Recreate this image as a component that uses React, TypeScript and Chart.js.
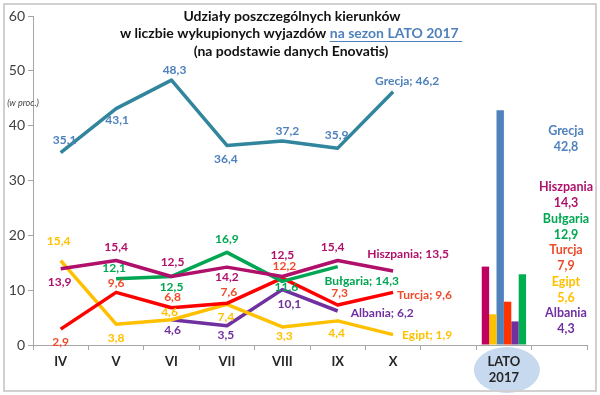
import { useEffect, useRef } from 'react';
import { Chart, registerables } from 'chart.js';

Chart.register(...registerables);

// ---------- DATA ----------
const categories: (string | string[])[] = ['IV', 'V', 'VI', 'VII', 'VIII', 'IX', 'X', '', ['LATO', '2017'], ''];
const yTicks = [0, 10, 20, 30, 40, 50, 60];

const grecja = [35.1, 43.1, 48.3, 36.4, 37.2, 35.9, 46.2];
const hiszpania = [13.9, 15.4, 12.5, 14.2, 12.5, 15.4, 13.5];
const bulgaria = [null, 12.1, 12.5, 16.9, 11.6, 14.3, null];
const turcja = [2.9, 9.6, 6.8, 7.6, 12.2, 7.3, 9.6];
const egipt = [15.4, 3.8, 4.6, 7.4, 3.3, 4.4, 1.9];
const albania = [null, null, 4.6, 3.5, 10.1, 6.2, null];

const latoNames = ['Hiszpania', 'Egipt', 'Grecja', 'Turcja', 'Albania', 'Bułgaria'];
const latoValues = [14.3, 5.6, 42.8, 7.9, 4.3, 12.9];
const latoAnnotationOrder = ['Grecja', 'Hiszpania', 'Bułgaria', 'Turcja', 'Egipt', 'Albania'];

const titleLine1 = 'Udziały poszczególnych kierunków';
const titleLine2a = 'w liczbie wykupionych wyjazdów ';
const titleLine2b = 'na sezon LATO 2017 ';
const titleLine3 = '(na podstawie danych Enovatis)';
const unitLabel = '(w proc.)';

// ---------- STYLES ----------
const FONT = 'Lato, "Open Sans", sans-serif';
type Off = [number, number, string?] | null;

const grecjaOff: Off[] = [[4, -12], [1, 11], [3, -10], [-1, 14], [5, -10], [-1, -13], [14, -11]];
const hiszpaniaOff: Off[] = [[-1, 13], [0, -13], [1, -14], [0, 10], [0, -21], [-5, -13], [15, -17]];
const bulgariaOff: Off[] = [null, [-2, -11], [0, 11], [0, -13], [4, 6], [24, 15]];
const turcjaOff: Off[] = [[0, 13], [0, -9], [1, -11], [2, -11], [2, -12], [2, -12], [4, 3, 'l']];
const egiptOff: Off[] = [[-2, -19], [0, 14], [-2, -8], [-1, 13], [2, 9], [-1, 12], [9, 1, 'l']];
const albaniaOff: Off[] = [null, null, [1, 10], [-1, 9], [7, 15], [13, 2, 'l']];

const lineSeries = [
  { name: 'Grecja', data: grecja, line: '#31859C', text: '#4F81BD', offs: grecjaOff },
  { name: 'Hiszpania', data: hiszpania, line: '#B0106A', text: '#B0106A', offs: hiszpaniaOff },
  { name: 'Bułgaria', data: bulgaria, line: '#00A651', text: '#00A651', offs: bulgariaOff },
  { name: 'Turcja', data: turcja, line: '#FF0000', text: '#EE4B2B', offs: turcjaOff },
  { name: 'Egipt', data: egipt, line: '#FFC000', text: '#FFC000', offs: egiptOff },
  { name: 'Albania', data: albania, line: '#7030A0', text: '#7030A0', offs: albaniaOff },
];

const barColors: Record<string, string> = {
  Hiszpania: '#C00060', Egipt: '#FFC000', Grecja: '#4F81BD', Turcja: '#FF3300', Albania: '#7030A0', 'Bułgaria': '#00B050',
};
const annColors: Record<string, string> = {
  Hiszpania: '#B0106A', Egipt: '#FFC000', Grecja: '#4F81BD', Turcja: '#EE4B2B', Albania: '#7030A0', 'Bułgaria': '#00A651',
};

const fmt = (v: number) => v.toFixed(1).replace('.', ',');
const pad = (arr: (number | null)[]) => categories.map((_, i) => (i < arr.length ? arr[i] : null));

const decorPlugin = {
  id: 'decor',
  beforeDraw(chart: any) {
    const { ctx } = chart;
    const x = chart.scales.x;
    ctx.save();
    const cx = x.getPixelForValue(8);
    ctx.fillStyle = '#C6D9EE';
    ctx.beginPath();
    ctx.ellipse(cx + 3, 370, 33, 23, 0, 0, Math.PI * 2);
    ctx.fill();
    ctx.restore();
  },
  afterDraw(chart: any) {
    const { ctx } = chart;
    const xs = chart.scales.x;
    const ys = chart.scales.y;
    ctx.save();
    // frame
    ctx.strokeStyle = '#D0D0D0';
    ctx.lineWidth = 2;
    ctx.strokeRect(4, 4, 592, 387);

    // title
    ctx.font = `bold 14px ${FONT}`;
    ctx.fillStyle = '#111';
    ctx.textBaseline = 'middle';
    ctx.textAlign = 'center';
    ctx.fillText(titleLine1, 292, 16);
    ctx.fillText(titleLine3, 291, 51);
    const wa = ctx.measureText(titleLine2a).width;
    const wb = ctx.measureText(titleLine2b).width;
    const sx = 291 - (wa + wb) / 2;
    ctx.textAlign = 'left';
    ctx.fillText(titleLine2a, sx, 33);
    ctx.fillStyle = '#4F81BD';
    ctx.fillText(titleLine2b, sx + wa, 33);
    ctx.strokeStyle = '#4F81BD';
    ctx.lineWidth = 1;
    ctx.beginPath();
    ctx.moveTo(sx + wa, 41.5);
    ctx.lineTo(sx + wa + wb, 41.5);
    ctx.stroke();

    // unit label
    ctx.font = `italic 9px ${FONT}`;
    ctx.fillStyle = '#404040';
    ctx.textAlign = 'center';
    ctx.fillText(unitLabel, 23, 103);

    // data labels
    ctx.font = `bold 12px ${FONT}`;
    lineSeries.forEach((s) => {
      let last = -1;
      s.data.forEach((v, i) => { if (v != null) last = i; });
      s.data.forEach((v, i) => {
        const o = s.offs[i];
        if (v == null || !o) return;
        const px = xs.getPixelForValue(i);
        const py = ys.getPixelForValue(v);
        const txt = i === last && i >= 5 ? `${s.name}; ${fmt(v)}` : fmt(v);
        ctx.fillStyle = s.text;
        ctx.textAlign = o[2] === 'l' ? 'left' : 'center';
        ctx.fillText(txt, px + o[0], py + o[1]);
      });
    });

    // right annotations
    ctx.font = `bold 12.5px ${FONT}`;
    ctx.textAlign = 'center';
    const ax = 566;
    latoAnnotationOrder.forEach((name, k) => {
      const v = latoValues[latoNames.indexOf(name)];
      const y0 = k === 0 ? 131 : 187 + (k - 1) * 31.5;
      ctx.fillStyle = annColors[name];
      ctx.fillText(name, ax, y0);
      ctx.fillText(fmt(v), ax, y0 + 16);
    });
    ctx.restore();
  },
};

export default function App() {
  const ref = useRef<HTMLCanvasElement>(null);
  useEffect(() => {
    if (!ref.current) return;
    const datasets: any[] = [];
    lineSeries.forEach((s) => {
      datasets.push({
        type: 'line',
        label: s.name,
        data: pad(s.data as (number | null)[]),
        borderColor: s.line,
        backgroundColor: s.line,
        borderWidth: 3.5,
        pointRadius: 0,
        tension: 0,
        spanGaps: false,
        borderJoinStyle: 'round',
      });
    });
    latoNames.forEach((name, k) => {
      datasets.push({
        type: 'bar',
        label: name,
        data: categories.map((_, i) => (i === 8 ? latoValues[k] : null)),
        backgroundColor: barColors[name],
        categoryPercentage: 0.8,
        barPercentage: 1,
      });
    });
    const chart = new Chart(ref.current, {
      type: 'bar',
      data: { labels: categories as any, datasets },
      options: {
        animation: false,
        responsive: true,
        maintainAspectRatio: false,
        layout: { padding: { top: 16, right: 13, left: 0, bottom: 0 }, autoPadding: false },
        plugins: { legend: { display: false }, tooltip: { enabled: false }, title: { display: false } },
        scales: {
          x: {
            type: 'category',
            offset: true,
            grid: { offset: true, drawOnChartArea: false, drawTicks: true, tickLength: 5, color: '#A6A6A6' },
            border: { color: '#A6A6A6', width: 1 },
            ticks: { font: { family: FONT, size: 13, weight: 'bold' }, color: '#262626', padding: 4, maxRotation: 0, autoSkip: false },
            afterFit: (s: any) => { s.height = 50; },
          },
          y: {
            min: 0,
            max: 60,
            afterBuildTicks: (s: any) => { s.ticks = yTicks.map((v) => ({ value: v })); },
            grid: { drawOnChartArea: false, drawTicks: true, tickLength: 5, color: '#A6A6A6' },
            border: { color: '#A6A6A6', width: 1 },
            ticks: { font: { family: FONT, size: 14 }, color: '#404040', padding: 3 },
            afterFit: (s: any) => { s.width = 33; },
          },
        },
      } as any,
      plugins: [decorPlugin],
    });
    return () => chart.destroy();
  }, []);
  return (
    <div style={{ position: 'absolute', left: 0, top: 0, width: 600, height: 395, background: '#fff' }}>
      <canvas ref={ref} />
    </div>
  );
}
